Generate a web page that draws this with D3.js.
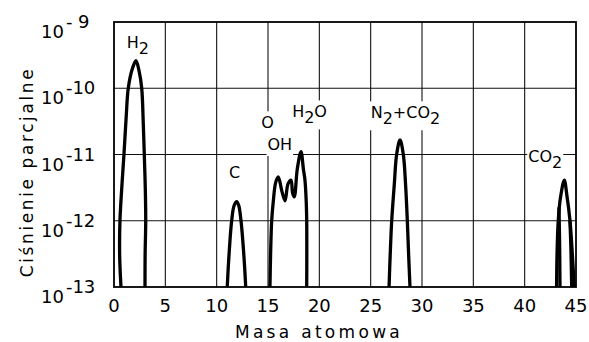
<!DOCTYPE html>
<html>
<head>
<meta charset="utf-8">
<script src="https://cdn.jsdelivr.net/npm/d3@7"></script>
<style>
  html, body { margin: 0; padding: 0; background: #fff; }
  svg { display: block; font-family: "DejaVu Sans", sans-serif; }
</style>
</head>
<body>
<svg id="chart" width="589" height="342"></svg>
<script>
// axis ticks
const xTicks = [0, 5, 10, 15, 20, 25, 30, 35, 40, 45];
const yTicks = [1e-9, 1e-10, 1e-11, 1e-12, 1e-13];
const yTickSup = ["- 9", "-10", "-11", "-12", "-13"];

// traces: [mass, partial pressure]
const traceH2 = [[0.68, 1e-13], [0.55, 3e-13], [0.58, 1e-12], [0.8, 4e-12], [0.97, 1e-11],
  [1.2, 4e-11], [1.39, 1e-10], [1.8, 2e-10], [2.14, 2.6e-10], [2.45, 1.8e-10], [2.7, 1e-10],
  [2.85, 3e-11], [2.95, 1e-11], [3.05, 3e-12], [3.09, 1e-12], [3.03, 3e-13], [3.02, 1e-13]];
const traceC = [[11.03, 1e-13], [11.2, 3e-13], [11.46, 1e-12], [11.7, 1.7e-12], [11.95, 1.95e-12],
  [12.15, 1.7e-12], [12.37, 1e-12], [12.65, 3e-13], [12.83, 1e-13]];
const traceOH = [[15.19, 1e-13], [15.25, 3e-13], [15.36, 1e-12], [15.52, 2e-12], [15.75, 3.8e-12],
  [16.0, 4.6e-12], [16.35, 2.8e-12], [16.66, 2.0e-12], [16.95, 3.6e-12], [17.24, 4.1e-12],
  [17.4, 2.6e-12], [17.56, 2.3e-12], [17.85, 6e-12], [18.21, 1.1e-11], [18.45, 6e-12],
  [18.6, 4.1e-12], [18.72, 2e-12], [18.77, 1e-12], [18.78, 3e-13], [18.77, 1e-13]];
const traceN2 = [[26.79, 1e-13], [26.9, 3e-13], [27.05, 1e-12], [27.3, 3.5e-12], [27.53, 1e-11],
  [27.86, 1.66e-11], [28.18, 1e-11], [28.4, 3.5e-12], [28.57, 1e-12], [28.7, 3e-13], [28.83, 1e-13]];
const traceCO2 = [[43.11, 1e-13], [43.15, 3e-13], [43.27, 1e-12], [43.5, 2.3e-12], [43.86, 4.1e-12],
  [44.1, 2.5e-12], [44.41, 1.02e-12], [44.65, 3e-13], [44.83, 1e-13]];
const traceCO2b = [[43.44, 1e-13], [43.4, 5e-13], [43.34, 1.6e-12]];
const traceCO2c = [[44.58, 1e-13], [44.5, 4e-13], [44.41, 1e-12]];
const traces = [traceH2, traceC, traceOH, traceN2, traceCO2, traceCO2b, traceCO2c];

// peak labels: text pieces, "sub" marks a subscript
const labelParts = [
  [["H", ""], ["2", "sub"]],
  [["C", ""]],
  [["O", ""]],
  [["OH", ""]],
  [["H", ""], ["2", "sub"], ["O", ""]],
  [["N", ""], ["2", "sub"], ["+CO", ""], ["2", "sub"]],
  [["CO", ""], ["2", "sub"]]
];
const labelMass = [1.25, 11.2, 14.35, 14.95, 17.35, 25.0, 40.35];
const labelPressure = [4.1e-10, 4.42e-12, 2.48e-11, 1.17e-11, 3.63e-11, 3.52e-11, 7.78e-12];

const svg = d3.select("#chart");
const pLeft = 114, pRight = 576, pTop = 22, pBottom = 287;

const x = d3.scaleLinear().domain([0, 45]).range([pLeft, pRight]);
const y = d3.scaleLog().domain([1e-13, 1e-9]).range([pBottom, pTop]);

// grid
const grid = svg.append("g").attr("stroke", "#111").attr("stroke-width", 1.1);
grid.selectAll(".vg").data(xTicks.slice(1, -1)).enter().append("line")
  .attr("x1", d => x(d)).attr("x2", d => x(d))
  .attr("y1", pTop).attr("y2", pBottom);
grid.selectAll(".hg").data(yTicks.slice(1, -1)).enter().append("line")
  .attr("x1", pLeft).attr("x2", pRight)
  .attr("y1", d => y(d)).attr("y2", d => y(d));

// frame
svg.append("rect")
  .attr("x", pLeft).attr("y", pTop)
  .attr("width", pRight - pLeft).attr("height", pBottom - pTop)
  .attr("fill", "none").attr("stroke", "#000").attr("stroke-width", 1.8);

// x axis labels
svg.append("g").selectAll("text").data(xTicks).enter().append("text")
  .attr("x", d => x(d)).attr("y", 312)
  .attr("text-anchor", "middle")
  .style("font-size", "18px")
  .text(d => d);

// y axis labels 10^n
const yl = svg.append("g").selectAll("text").data(yTicks).enter().append("text")
  .attr("x", 41).attr("y", d => y(d) + 16)
  .style("font-size", "18px");
yl.append("tspan").text("10");
yl.append("tspan").attr("dx", 2).attr("dy", -10).text((d, i) => yTickSup[i]);

// axis titles
svg.append("text")
  .attr("x", 319).attr("y", 338)
  .attr("text-anchor", "middle")
  .style("font-size", "17px").style("letter-spacing", "3.3px")
  .text("Masa atomowa");
svg.append("text")
  .attr("transform", "translate(33,172) rotate(-90)")
  .attr("text-anchor", "middle")
  .style("font-size", "17px").style("letter-spacing", "2.6px")
  .text("Ciśnienie parcjalne");

// peak labels with white backing so grid lines break round them
const lab = svg.append("g");
labelParts.forEach((parts, i) => {
  const g = lab.append("g");
  const t = g.append("text")
    .attr("x", x(labelMass[i])).attr("y", y(labelPressure[i]))
    .style("font-size", "16px");
  let shifted = false;
  parts.forEach(p => {
    const ts = t.append("tspan").text(p[0]);
    if (p[1] === "sub") { ts.attr("dy", 6); shifted = true; }
    else if (shifted) { ts.attr("dy", -6); shifted = false; }
  });
  const bb = t.node().getBBox();
  g.insert("rect", "text")
    .attr("x", bb.x - 1).attr("y", bb.y - 2)
    .attr("width", bb.width + 2).attr("height", bb.height + 4)
    .attr("fill", "#fff");
});

// traces
const line = d3.line()
  .x(d => x(d[0])).y(d => y(d[1]))
  .curve(d3.curveCatmullRom.alpha(0.5));
svg.append("g").selectAll("path").data(traces).enter().append("path")
  .attr("d", line)
  .attr("fill", "none").attr("stroke", "#000")
  .attr("stroke-width", 3.3)
  .attr("stroke-linejoin", "round").attr("stroke-linecap", "butt");
</script>
</body>
</html>
